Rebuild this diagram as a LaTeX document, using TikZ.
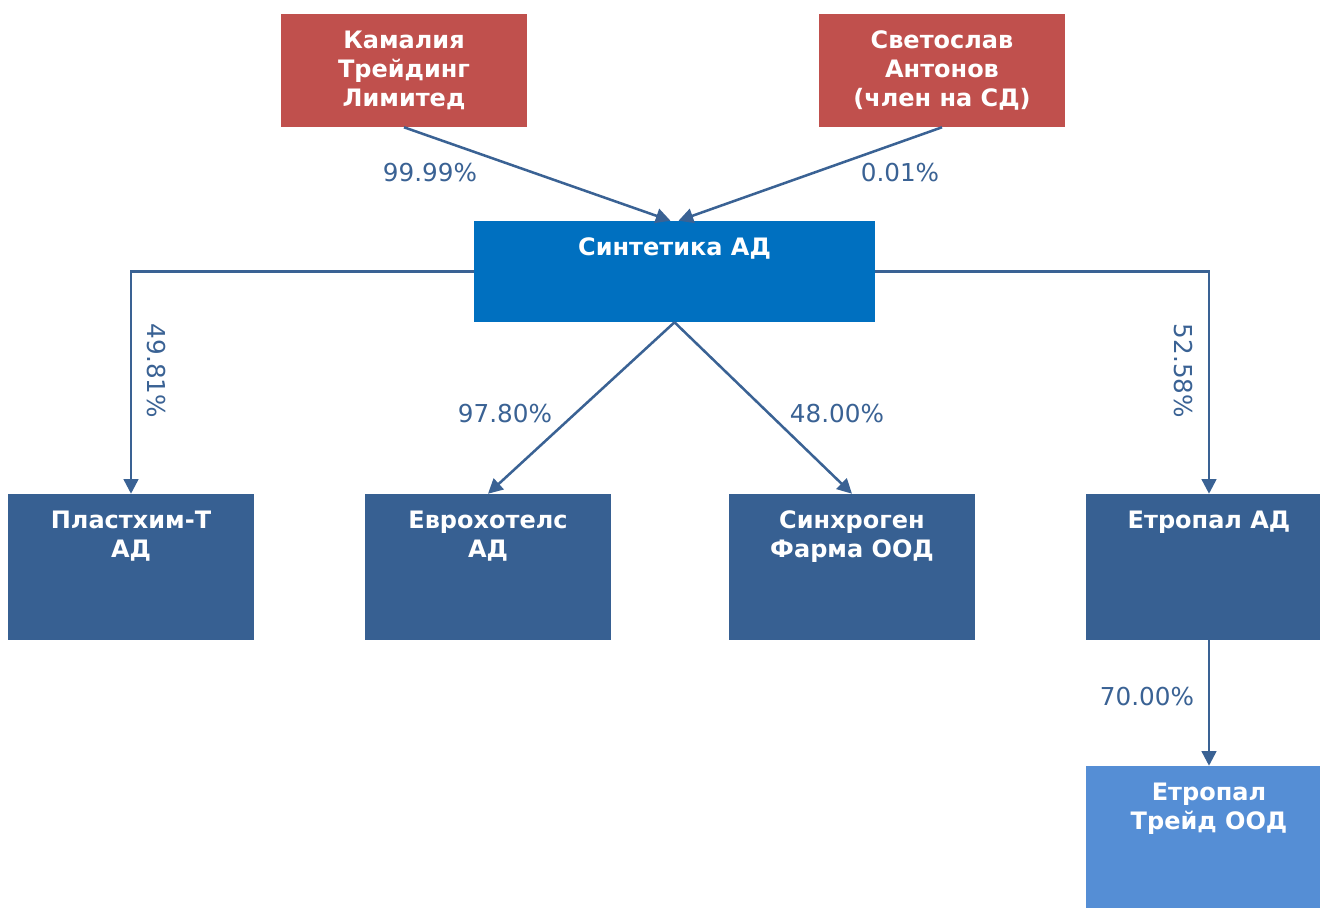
\documentclass[tikz,border=0pt]{standalone}
\usepackage{fontspec}
\setmainfont{DejaVu Sans}
\usetikzlibrary{arrows.meta,positioning}

\definecolor{ownerred}{HTML}{C0504D}
\definecolor{parentblue}{HTML}{0070C0}
\definecolor{daughterblue}{HTML}{376092}
\definecolor{tradeblue}{HTML}{558ED5}
\definecolor{linkblue}{HTML}{3A6294}

\begin{document}
\begin{tikzpicture}
    [x=0.75pt, y=-0.75pt,
    % STYLES
    % The box style is used for every owner or company
    box/.style={rectangle, inner sep=0pt, minimum width=184.5pt, minimum height=84.75pt},
    % The boxtext style puts the name at the top of its box
    boxtext/.style={anchor=north, yshift=-12.5pt, inner sep=0pt, align=center, text=white, font=\bfseries\fontsize{18}{21.75}\selectfont},
    owner/.style={box, fill=ownerred},
    parent/.style={box, fill=parentblue, minimum width=300.75pt, minimum height=75.75pt},
    daughter/.style={box, fill=daughterblue, minimum height=109.5pt},
    trade/.style={box, fill=tradeblue, minimum height=109.5pt},
    % The link style is used for the shares
    link/.style={draw=linkblue, line width=1.9pt, -{Triangle[length=11pt,width=11pt]}},
    pct/.style={text=linkblue, font=\fontsize{18.5}{20}\selectfont}]

    \useasboundingbox (0,0) rectangle (1320,907);

    % Draw owners
    \node [owner, label={[boxtext]north:{Камалия\\Трейдинг\\Лимитед}}] (kamalia) at (404,70.5) {};
    \node [owner, label={[boxtext]north:{Светослав\\Антонов\\(член на СД)}}] (antonov) at (942,70.5) {};

    % Draw companies
    \node [parent, label={[boxtext]north:{Синтетика АД}}] (sintetika) at (674.5,271.5) {};
    \node [daughter, label={[boxtext]north:{Пластхим-Т\\АД}}] (plastchim) at (131,567) {};
    \node [daughter, label={[boxtext]north:{Еврохотелс\\АД}}] (evrohotels) at (488,567) {};
    \node [daughter, label={[boxtext]north:{Синхроген\\Фарма ООД}}] (sinhrogen) at (852,567) {};
    \node [daughter, label={[boxtext]north:{Етропал АД}}] (etropal) at (1209,567) {};
    \node [trade, label={[boxtext]north:{Етропал\\Трейд ООД}}] (trade) at (1209,839) {};

    % Draw the links between owners and companies
    \draw [link] (kamalia.south) -- ([xshift=-3pt]sintetika.north);
    \draw [link] (antonov.south) -- ([xshift=3pt]sintetika.north);
    \draw [link] (sintetika.west) -| (plastchim.north);
    \draw [link] (sintetika.south) -- (evrohotels.north);
    \draw [link] (sintetika.south) -- (sinhrogen.north);
    \draw [link] (sintetika.east) -| (etropal.north);
    \draw [link] (etropal.south) -- (trade.north);

    % Draw the shares
    \node [pct] (p-kamalia) at (430,173) {99.99\%};
    \node [pct] (p-antonov) at (900,173) {0.01\%};
    \node [pct, rotate=-90] (p-plastchim) at (156,371) {49.81\%};
    \node [pct] (p-evrohotels) at (505,414) {97.80\%};
    \node [pct] (p-sinhrogen) at (837,414) {48.00\%};
    \node [pct, rotate=-90] (p-etropal) at (1183,371) {52.58\%};
    \node [pct] (p-trade) at (1147,697) {70.00\%};
\end{tikzpicture}
\end{document}
